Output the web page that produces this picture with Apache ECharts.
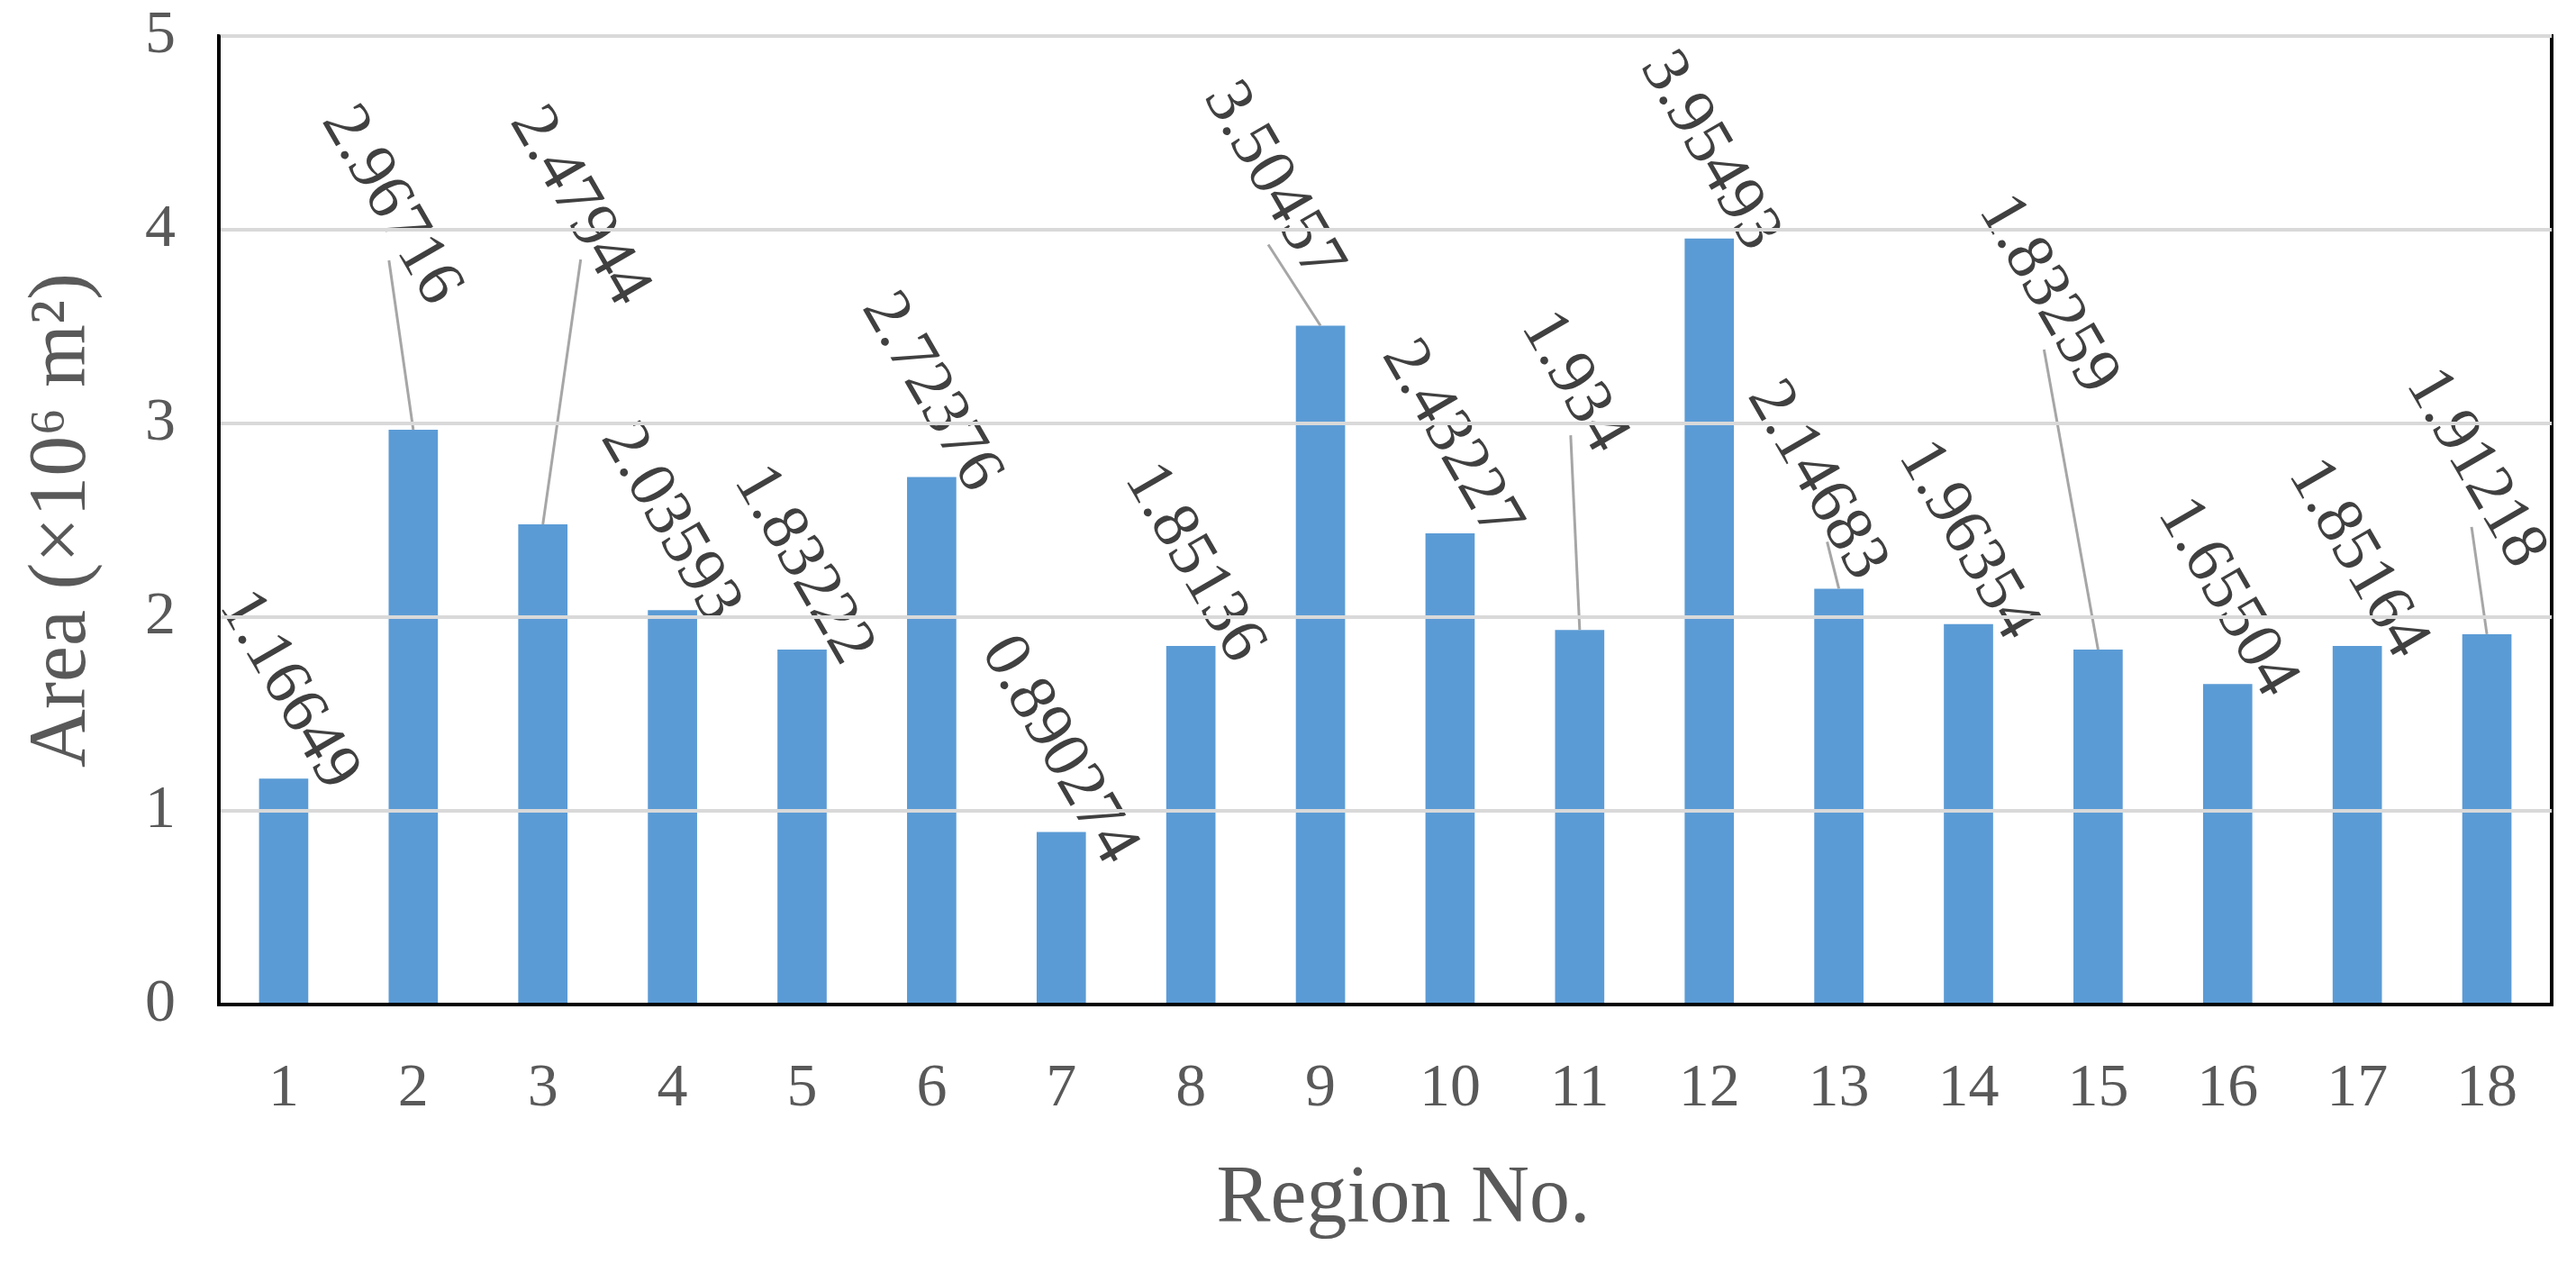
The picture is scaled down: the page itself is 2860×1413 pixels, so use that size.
<!DOCTYPE html>
<html>
<head>
<meta charset="utf-8">
<script src="https://cdn.jsdelivr.net/npm/echarts@6/dist/echarts.min.js"></script>
<style>
  html, body { margin: 0; padding: 0; background: #ffffff; }
  #chart { width: 2860px; height: 1413px; }
</style>
</head>
<body>
<div id="chart"></div>
<script>
// ---- data ----
const regionNumbers = ['1','2','3','4','5','6','7','8','9','10','11','12','13','14','15','16','17','18'];
const areaValues = [1.16649, 2.96716, 2.47944, 2.03593, 1.83222, 2.72376, 0.890274, 1.85136, 3.50457,
                    2.43227, 1.934, 3.95493, 2.14683, 1.96354, 1.83259, 1.65504, 1.85164, 1.91218];
const yTickValues = [0, 1, 2, 3, 4, 5];
const xAxisTitle = 'Region No.';
const yAxisTitle = 'Area (×10⁶ m²)';

// ---- label placement (screen pixel offsets of each rotated label's centre from its bar top) ----
const labelOffsets = [
  [5, -98], [-25, -249], [40, -353], [-3, -97], [1, -94], [-1, -94], [-3, -91], [3, -92], [-53, -160],
  [1, -104], [-7, -275], [0, -97], [-25, -120], [-1, -93], [-56, -394], [-1, -96], [0, -97], [-13, -184]
];
// leader line end (pixel offset from bar top), null = no leader line
const leaderEnds = [
  null, [-27, -188], [42, -294], null, null, null, null, null, [-58, -90],
  null, [-10, -216], null, [-13, -52], null, [-60, -333], null, null, [-17, -119]
];

const labelRotate = -60;
const serif = 'Liberation Serif';
const textGray = '#595959';

// labelLayout dx/dy act in the rotated label frame: convert screen offsets into it
const phi = -labelRotate * Math.PI / 180;
function toLocal(o) {
  const c = Math.cos(phi), s = Math.sin(phi);
  return { dx: o[0] * c + o[1] * s, dy: -o[0] * s + o[1] * c };
}

const chart = echarts.init(document.getElementById('chart'), null, { renderer: 'canvas' });

const option = {
  animation: false,
  backgroundColor: '#ffffff',
  grid: {
    left: 243, right: 27, top: 40, bottom: 298,
    show: true, borderColor: '#000000', borderWidth: 4, backgroundColor: 'transparent'
  },
  xAxis: {
    type: 'category',
    data: regionNumbers,
    name: xAxisTitle,
    nameLocation: 'middle',
    nameGap: 172,
    nameTextStyle: { fontFamily: serif, fontSize: 90, color: textGray, padding: [0, 0, 0, 40] },
    axisLine: { show: true, lineStyle: { color: '#000000', width: 4 } },
    axisTick: { show: false },
    axisLabel: { fontFamily: serif, fontSize: 68, color: textGray, margin: 60 },
    splitLine: { show: false },
    z: 5
  },
  yAxis: {
    type: 'value',
    min: yTickValues[0],
    max: yTickValues[yTickValues.length - 1],
    interval: 1,
    name: yAxisTitle,
    nameLocation: 'middle',
    nameGap: 128,
    nameRotate: 90,
    nameTextStyle: { fontFamily: serif, fontSize: 90, color: textGray },
    axisLine: { show: true, lineStyle: { color: '#000000', width: 4 } },
    axisTick: { show: false },
    axisLabel: { fontFamily: serif, fontSize: 68, color: textGray, margin: 48 },
    splitLine: { show: true, lineStyle: { color: '#d9d9d9', width: 4 } },
    z: 5
  },
  series: [
    {
      type: 'bar',
      data: areaValues,
      barWidth: '38%',
      itemStyle: { color: '#5B9BD5' },
      label: {
        show: true,
        position: 'top',
        distance: 0,
        rotate: labelRotate,
        align: 'center',
        verticalAlign: 'middle',
        fontFamily: serif,
        fontSize: 74,
        color: '#404040',
        formatter: (p) => String(areaValues[p.dataIndex])
      },
      labelLayout: (p) => toLocal(labelOffsets[p.dataIndex]),
      z: 2
    },
    {
      type: 'custom',
      silent: true,
      z: 3,
      data: areaValues.map((v, i) => [i, v]),
      renderItem: (params, api) => {
        const e = leaderEnds[params.dataIndex];
        if (!e) return { type: 'group', children: [] };
        const p = api.coord([api.value(0), api.value(1)]);
        return {
          type: 'line',
          shape: { x1: p[0], y1: p[1], x2: p[0] + e[0], y2: p[1] + e[1] },
          style: { stroke: '#a6a6a6', lineWidth: 3 }
        };
      }
    }
  ]
};

chart.setOption(option);
</script>
</body>
</html>
